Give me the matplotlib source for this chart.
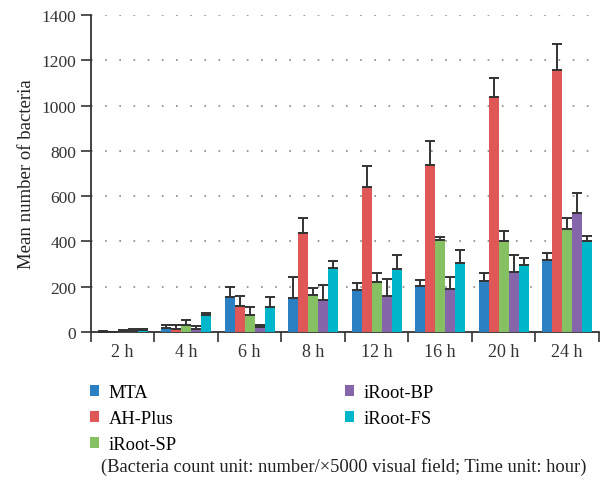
import numpy as np
import matplotlib
matplotlib.use('Agg')
import matplotlib.pyplot as plt
from matplotlib.patches import Patch

plt.rcParams['font.family'] = ['Liberation Serif', 'DejaVu Serif']

times = ['2 h', '4 h', '6 h', '8 h', '12 h', '16 h', '20 h', '24 h']
groups = ['MTA', 'AH-Plus', 'iRoot-SP', 'iRoot-BP', 'iRoot-FS']
colors = ['#2a80c2', '#e05757', '#85c062', '#8566aa', '#00b6cb']

mta      = [2, 18, 156, 151, 185, 203, 225, 318]
ah_plus  = [0, 13, 116, 437, 640, 739, 1038, 1157]
iroot_sp = [3, 32, 76, 165, 219, 406, 401, 454]
iroot_bp = [4, 13, 24, 143, 159, 188, 265, 525]
iroot_fs = [8, 76, 112, 282, 278, 304, 296, 401]

# upper end of the error bars
mta_top      = [4, 29, 200, 244, 218, 231, 260, 347]
ah_plus_top  = [1, 29, 160, 503, 735, 845, 1121, 1273]
iroot_sp_top = [8, 51, 109, 196, 260, 421, 446, 504]
iroot_bp_top = [12, 25, 32, 206, 232, 243, 338, 613]
iroot_fs_top = [15, 85, 153, 312, 341, 360, 326, 422]

values = [mta, ah_plus, iroot_sp, iroot_bp, iroot_fs]
tops = [mta_top, ah_plus_top, iroot_sp_top, iroot_bp_top, iroot_fs_top]

fig = plt.figure(figsize=(6.02, 4.81), dpi=100)
ax = fig.add_axes([0.151, 0.3077, 0.844, 0.659])

x = np.arange(len(times))
w = 0.157
for i, (vals, top, col) in enumerate(zip(values, tops, colors)):
    vals = np.array(vals, float)
    err = np.array(top, float) - vals
    pos = x + (i - 2) * w
    ax.bar(pos, vals, width=w, color=col, zorder=3, linewidth=0)
    ax.errorbar(pos, vals, yerr=[np.zeros_like(err), err], fmt='none',
                ecolor='#333333', elinewidth=1.4, capsize=3.5, capthick=1.4, zorder=4)

ax.set_xlim(-0.5, len(times) - 0.5)
ax.set_ylim(0, 1400)
ax.set_yticks(range(0, 1401, 200))
ax.yaxis.grid(True, color='#888888', linestyle=(0, (1, 7.5)), linewidth=1.2)
ax.set_axisbelow(True)

ax.set_xticks(x)
ax.set_xticklabels(times)
ax.set_xticks(np.arange(-0.5, len(times)), minor=True)
ax.tick_params(axis='x', which='major', length=0, pad=8, labelsize=13, colors='#333333')
ax.tick_params(axis='x', which='minor', length=7, width=1.2, color='#333333')
ax.tick_params(axis='y', length=7, width=1.2, labelsize=12.5, colors='#333333')

for s in ['top', 'right']:
    ax.spines[s].set_visible(False)
for s in ['left', 'bottom']:
    ax.spines[s].set_color('#333333')
    ax.spines[s].set_linewidth(1.3)

ax.set_ylabel('Mean number of bacteria', fontsize=13.5, color='#222222', labelpad=5)

handles = [Patch(facecolor=c, label=g) for g, c in zip(groups, colors)]
fig.legend(handles=handles, ncol=2, loc='upper left', bbox_to_anchor=(0.1495, 0.2),
           frameon=False, fontsize=13.3, borderpad=0, borderaxespad=0,
           handlelength=0.5, handleheight=0.5,
           handletextpad=0.5, columnspacing=9.1, labelspacing=0.5)

fig.text(0.571, 0.029, '(Bacteria count unit: number/\u00d75000 visual field; Time unit: hour)',
         ha='center', va='center', fontsize=13.3, color='#222222')

fig.savefig('out.png', dpi=100)
